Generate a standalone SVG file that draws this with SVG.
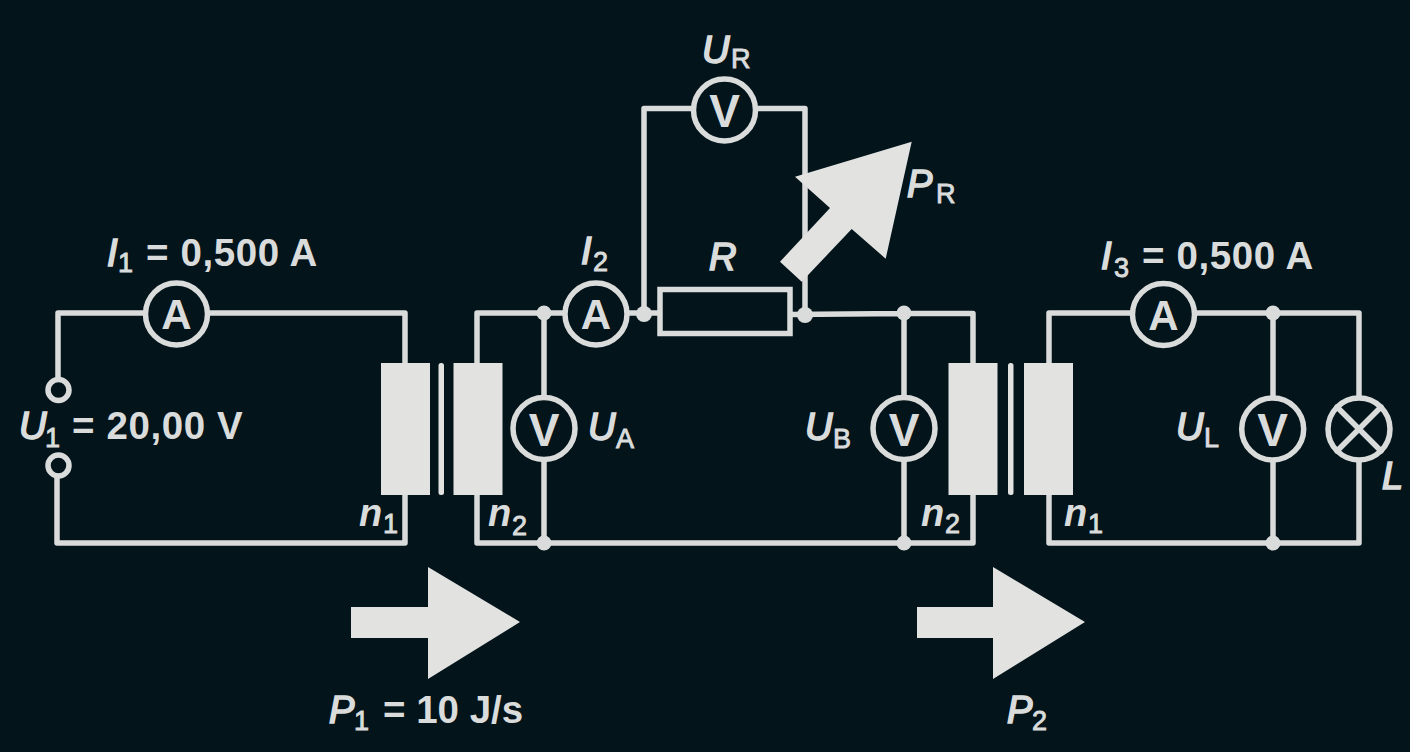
<svg xmlns="http://www.w3.org/2000/svg" width="1410" height="752" viewBox="0 0 1410 752">
<style>
text{font-family:"Liberation Sans",Arial,sans-serif;fill:#dadcdc;font-weight:bold}
.v{font-style:italic;font-size:38px;font-weight:normal;stroke:#dadcdc;stroke-width:1.700}
.n{font-style:italic;font-size:38px}
.s{font-size:27px;font-weight:normal;stroke:#dadcdc;stroke-width:.9}
.t{font-size:38.500px;letter-spacing:.6px}
.m{font-size:42px;text-anchor:middle}
.mv{font-size:46px;text-anchor:middle}
.w{fill:none;stroke:#dadcdc;stroke-width:5.500;stroke-linejoin:round;stroke-linecap:round}
.c{fill:#03141b;stroke:#dadcdc;stroke-width:5.500}
.f{fill:#e2e2e1}
.d{fill:#dadcdc}
</style>
<rect width="1410" height="752" fill="#03141b"/>
<g id="connectors" class="w">
<path d="M58 378V313H405V543H57V478"/>
<path d="M477 363V313H660M477 495V543H973V495M544 313V543"/>
<path d="M644 314V108.500H805V315"/>
<path d="M790 314.500L904 313.500H973V363M904 313V543"/>
<path d="M1049 363V313H1359V543H1049V495M1273 313V543"/>
</g>
<g id="source"><circle class="c" cx="58.500" cy="390" r="10.500"/><circle class="c" cx="58.500" cy="465.500" r="10.500"/></g>
<g id="ammeter-1"><circle class="c" cx="176.500" cy="314" r="31"/><text class="m" x="176.500" y="329">A</text></g>
<g id="transformer-1"><rect class="f" x="381" y="363" width="49" height="132"/><rect class="f" x="438.500" y="363" width="5.500" height="132" rx="2.500"/><rect class="f" x="453.500" y="363" width="49" height="132"/></g>
<g id="voltmeter-a"><circle class="c" cx="544" cy="428.500" r="31"/><text class="mv" x="544" y="445.500">V</text></g>
<g id="ammeter-2"><circle class="c" cx="596" cy="314" r="31"/><text class="m" x="596" y="329">A</text></g>
<g id="node-a"><circle class="d" cx="544" cy="313" r="7.500"/><circle class="d" cx="544" cy="543" r="7.500"/></g>
<g id="node-b"><circle class="d" cx="644" cy="314" r="8"/><circle class="d" cx="805" cy="315" r="8"/></g>
<g id="resistor"><rect class="c" x="660" y="289.500" width="130" height="44"/></g>
<g id="voltmeter-r"><circle class="c" cx="724.500" cy="110" r="31"/><text class="mv" x="724.500" y="127">V</text></g>
<g id="arrow-r"><polygon class="f" points="911.700,141.700 795,176.700 830,208 780,261.700 801.700,281.700 851.700,229 885.700,258.700"/></g>
<g id="node-c"><circle class="d" cx="904" cy="313" r="7.500"/><circle class="d" cx="904" cy="543" r="7.500"/></g>
<g id="voltmeter-b"><circle class="c" cx="904" cy="428.500" r="31"/><text class="mv" x="904" y="445.500">V</text></g>
<g id="transformer-2"><rect class="f" x="948.500" y="363" width="49" height="132"/><rect class="f" x="1008" y="363" width="5.500" height="132" rx="2.500"/><rect class="f" x="1024" y="363" width="49" height="132"/></g>
<g id="ammeter-3"><circle class="c" cx="1163.500" cy="314.500" r="31"/><text class="m" x="1163.500" y="329.500">A</text></g>
<g id="node-d"><circle class="d" cx="1273" cy="313" r="7.500"/><circle class="d" cx="1273" cy="543" r="7.500"/></g>
<g id="voltmeter-l"><circle class="c" cx="1272.700" cy="429" r="31"/><text class="mv" x="1272.700" y="446">V</text></g>
<g id="lamp"><circle class="c" cx="1359" cy="429" r="31"/><path class="w" d="M1337 407L1381 451M1381 407L1337 451"/></g>
<g id="arrow-1"><polygon class="f" points="351,607 428,607 428,567 520,622 428,679 428,638 351,638"/></g>
<g id="arrow-2"><polygon class="f" points="917,607 993,607 993,567 1085,622 993,679 993,638 917,638"/></g>
<g id="labels">
<text class="v" x="107" y="266">I</text><text class="s" x="118" y="272">1</text><text class="t" x="146" y="266">= 0,500 A</text>
<text class="v" x="19" y="439">U</text><text class="s" x="45" y="447">1</text><text class="t" x="72" y="439">= 20,00 V</text>
<text class="n" x="359" y="526">n</text><text class="s" x="383" y="533">1</text>
<text class="n" x="488" y="526">n</text><text class="s" x="512" y="535">2</text>
<text class="v" x="702" y="63">U</text><text class="s" x="731" y="68">R</text>
<text class="v" x="581" y="264">I</text><text class="s" x="593" y="271">2</text>
<text class="v" x="709" y="270">R</text>
<text class="v" x="907" y="197">P</text><text class="s" x="936" y="203">R</text>
<text class="v" x="588" y="440">U</text><text class="s" x="616" y="447.500">A</text>
<text class="v" x="805" y="440">U</text><text class="s" x="833" y="447.500">B</text>
<text class="n" x="921" y="526">n</text><text class="s" x="945" y="533">2</text>
<text class="n" x="1064" y="526">n</text><text class="s" x="1088" y="533">1</text>
<text class="v" x="1101" y="269">I</text><text class="s" x="1114" y="277">3</text><text class="t" x="1142" y="269">= 0,500 A</text>
<text class="v" x="1176" y="440">U</text><text class="s" x="1204" y="447">L</text>
<text class="v" x="1382" y="489">L</text>
<text class="v" x="329" y="723">P</text><text class="s" x="354" y="730">1</text><text class="t" x="383" y="723" style="letter-spacing:0">= 10 J/s</text>
<text class="v" x="1007" y="723">P</text><text class="s" x="1032" y="730">2</text>
</g>
</svg>
